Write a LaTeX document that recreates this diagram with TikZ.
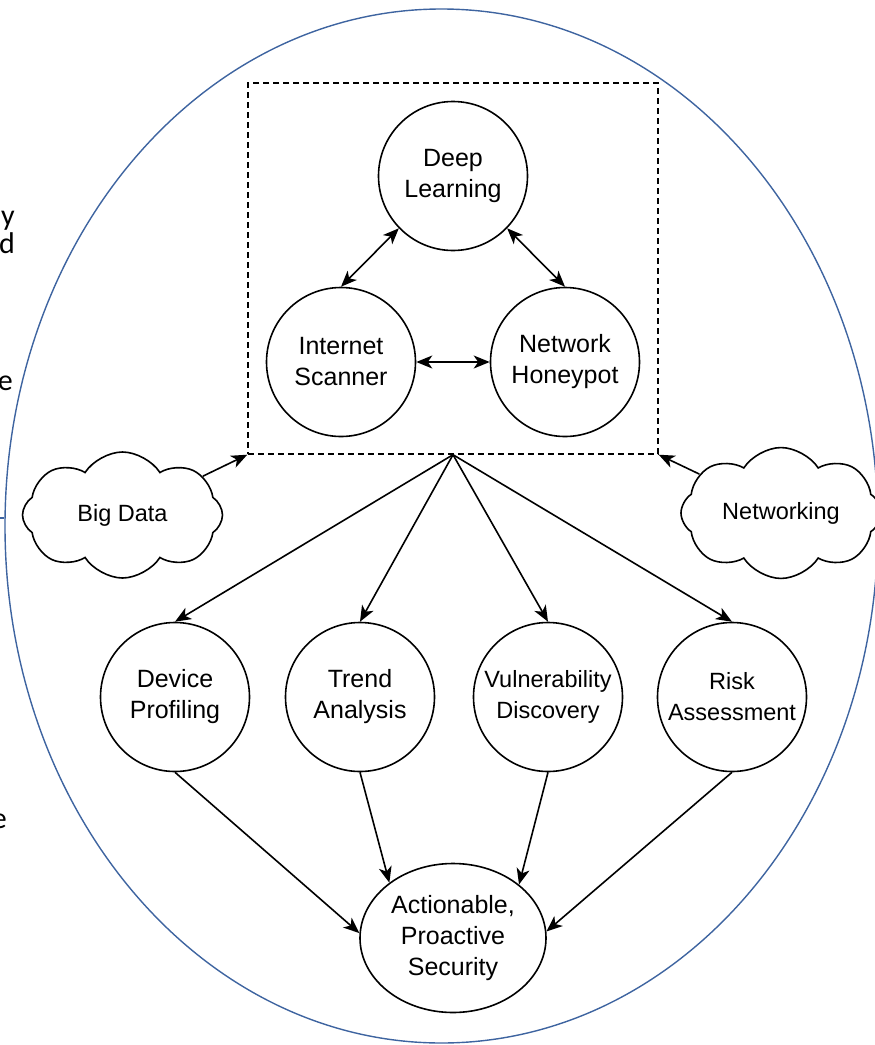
\documentclass[tikz,border=0pt]{standalone}
\usepackage{fontspec}
\setmainfont{Liberation Sans}
\newfontfamily\fragfont{Carlito}
\usetikzlibrary{arrows.meta,shapes.geometric,shapes.symbols}

\definecolor{ringblue}{RGB}{62,100,160}

\tikzset{
  topic/.style={draw,circle,line width=1.6pt,minimum size=149pt,inner sep=0pt,align=center,font=\fontsize{25}{31}\selectfont},
  source/.style={draw,cloud,cloud puffs=8,cloud puff arc=115,aspect=1.6,line width=1.6pt,minimum width=200pt,minimum height=126pt,inner sep=0pt,font=\fontsize{23.5}{28}\selectfont},
  link/.style={line width=1.6pt,>={Stealth[length=16pt,width=13pt,inset=4.5pt]}},
  frag/.style={font=\fragfont\fontsize{30}{36}\selectfont,inner sep=0pt}
}

\begin{document}
\begin{tikzpicture}[x=1pt,y=-1pt]
    \useasboundingbox (0,0) rectangle (875,1045);

    % outer ring
    \node[draw=ringblue,ellipse,line width=1.4pt,minimum width=873pt,minimum height=1034pt,inner sep=0pt] (ring) at (441.5,526) {};
    \coordinate (stub) at (0,518);
    \draw[ringblue,line width=1.4pt] (stub) -- (ring.west |- stub);

    % cut-off text at the left edge
    \node[frag,anchor=base east] (fy) at (15,225) {y};
    \node[frag,anchor=base east] (fd) at (15,253) {d};
    \node[frag,anchor=base east] (fe) at (13,390) {e};
    \node[frag,anchor=base east] (fe2) at (7,828) {e};

    % dashed core
    \node[draw,line width=1.4pt,dash pattern=on 6pt off 4pt,minimum width=410pt,minimum height=371pt,inner sep=0pt] (core) at (453,268.5) {};
    \node[topic] (deep) at (453,176) {Deep\\Learning};
    \node[topic] (scanner) at (341,362) {Internet\\Scanner};
    \node[topic] (honeypot) at (565,362) {Network\\Honeypot};

    % inputs
    \node[source] (bigdata) at (122.5,515) {Big Data};
    \node[source] (networking) at (781,513) {Networking};

    % outputs
    \node[topic] (device) at (175,697) {Device\\Profiling};
    \node[topic] (trend) at (360,697) {Trend\\Analysis};
    \node[topic,font=\fontsize{23.5}{31}\selectfont] (vuln) at (548,697) {Vulnerability\\Discovery};
    \node[topic,font=\fontsize{23.5}{31}\selectfont] (risk) at (732,697) {Risk\\Assessment};
    \node[draw,ellipse,line width=1.6pt,minimum width=186pt,minimum height=149pt,inner sep=0pt,align=center,font=\fontsize{25}{31}\selectfont] (action) at (453,938) {Actionable,\\Proactive\\Security};

    \draw[link,<->] (deep.224) -- (scanner.north);
    \draw[link,<->] (deep.316) -- (honeypot.north);
    \draw[link,<->] (scanner.east) -- (honeypot.west);
    \draw[link,->] (bigdata) -- (core.south west);
    \draw[link,->] (networking) -- (core.south east);
    \draw[link,->] (core.south) -- (device.north);
    \draw[link,->] (core.south) -- (trend.north);
    \draw[link,->] (core.south) -- (vuln.north);
    \draw[link,->] (core.south) -- (risk.north);
    \draw[link,->] (device.south) -- (action.177);
    \draw[link,->] (trend.south) -- (action.139);
    \draw[link,->] (vuln.south) -- (action.39);
    \draw[link,->] (risk.south) -- (action.4);
  \end{tikzpicture}
\end{document}
